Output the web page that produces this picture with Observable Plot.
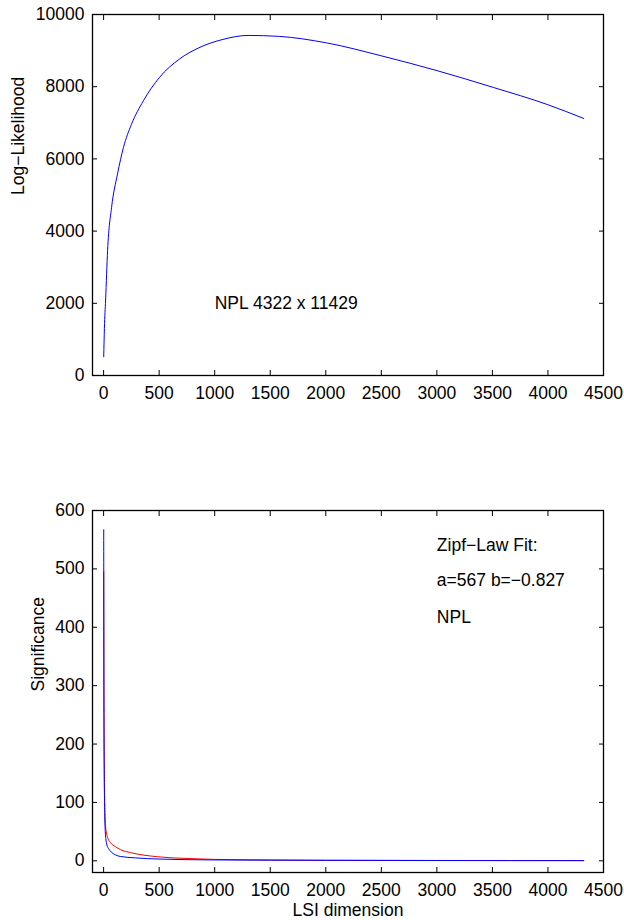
<!DOCTYPE html>
<html>
<head>
<meta charset="utf-8">
<script src="https://cdn.jsdelivr.net/npm/d3@7"></script>
<script src="https://cdn.jsdelivr.net/npm/@observablehq/plot@0.6"></script>
<style>
  html, body { margin: 0; padding: 0; background: #fff; }
  #chart svg { display: block; }
</style>
</head>
<body>
<div id="chart"></div>
<script>
// ---- data ----
const xTicks = [0, 500, 1000, 1500, 2000, 2500, 3000, 3500, 4000, 4500];
const llTicks = [0, 2000, 4000, 6000, 8000, 10000];
const sigTicks = [0, 100, 200, 300, 400, 500, 600];

// Log-likelihood curve (top)
const llX = [1, 7, 18, 36, 72, 125, 179, 251, 358, 501, 680, 859, 1074, 1300, 1575, 2005, 2506, 3007, 3508, 4000, 4322];
const llY = [520, 1300, 2090, 3470, 4660, 5580, 6320, 6960, 7610, 8250, 8760, 9080, 9310, 9420, 9395, 9215, 8850, 8440, 7980, 7500, 7120];

// Significance (blue) and Zipf fit (red), bottom
const sigX = [1, 3, 6, 10, 15, 20, 30, 48, 75, 108, 150, 288, 500, 1000, 2000, 3000, 4322];
const sigY = [567, 300, 150, 80, 50, 38, 27, 20, 14, 10, 7.5, 5, 3, 1.5, 0.8, 0.5, 0.3];
const fitX = [1, 3, 6, 10, 18, 33, 63, 108, 153, 243, 483, 750, 990, 1500, 2000, 3000, 4322];
const fitY = [495, 260, 150, 100, 58, 42, 31, 24, 19, 14, 7, 4, 2.5, 1.5, 1, 0.6, 0.4];

const topNote = ["NPL 4322 x 11429"];
const topNoteX = [1000];
const topNoteY = [2000];
const botNotes = ["Zipf\u2212Law Fit:", "a=567 b=\u22120.827", "NPL"];
const botNotesX = [3000, 3000, 3000];
const botNotesY = [540, 480, 417];

const llData = llX.map((x, i) => ({x, y: llY[i]}));
const sigData = sigX.map((x, i) => ({x, y: sigY[i]}));
const fitData = fitX.map((x, i) => ({x, y: fitY[i]}));

const font = {fontFamily: "'Liberation Sans', Arial, Helvetica, sans-serif", fontSize: "17.5px", background: "#fff", color: "#000"};
const fmt = d => String(d);

function frameAxes(yTicks, yPad) {
  return [
    Plot.frame({stroke: "#000", strokeWidth: 1.3}),
    Plot.axisX(xTicks, {anchor: "bottom", tickSize: -5, tickPadding: 16, tickFormat: fmt, label: null}),
    Plot.axisX(xTicks, {anchor: "top", tickSize: -5, tickFormat: () => "", label: null}),
    Plot.axisY(yTicks, {anchor: "left", tickSize: -5, tickPadding: yPad, tickFormat: fmt, label: null}),
    Plot.axisY(yTicks, {anchor: "right", tickSize: -5, tickFormat: () => "", label: null})
  ];
}

const topChart = Plot.plot({
  width: 624, height: 460,
  marginTop: 14, marginBottom: 85, marginLeft: 92, marginRight: 21,
  style: font,
  x: {domain: [-100, 4500]},
  y: {domain: [0, 10000]},
  marks: [
    ...frameAxes(llTicks, 13),
    Plot.line(llData, {x: "x", y: "y", stroke: "#0000ff", strokeWidth: 1, curve: "monotone-x"}),
    Plot.text(topNote, {x: (d, i) => topNoteX[i], y: (d, i) => topNoteY[i], text: d => d, textAnchor: "start"}),
    Plot.text(["Log\u2212Likelihood"], {frameAnchor: "left", rotate: -90, dx: -74})
  ]
});

const bottomChart = Plot.plot({
  width: 624, height: 460,
  marginTop: 50, marginBottom: 48, marginLeft: 92, marginRight: 21,
  style: font,
  x: {domain: [-100, 4500]},
  y: {domain: [-20, 600]},
  marks: [
    ...frameAxes(sigTicks, 13),
    Plot.line(fitData, {x: "x", y: "y", stroke: "#ff0000", strokeWidth: 1, curve: "monotone-x"}),
    Plot.line(sigData, {x: "x", y: "y", stroke: "#0000ff", strokeWidth: 1, curve: "monotone-x"}),
    Plot.text(botNotes, {x: (d, i) => botNotesX[i], y: (d, i) => botNotesY[i], text: d => d, textAnchor: "start"}),
    Plot.text(["Significance"], {frameAnchor: "left", rotate: -90, dx: -54}),
    Plot.text(["LSI dimension"], {frameAnchor: "bottom", lineAnchor: "middle", dy: 38})
  ]
});

document.getElementById("chart").append(topChart, bottomChart);
</script>
</body>
</html>
